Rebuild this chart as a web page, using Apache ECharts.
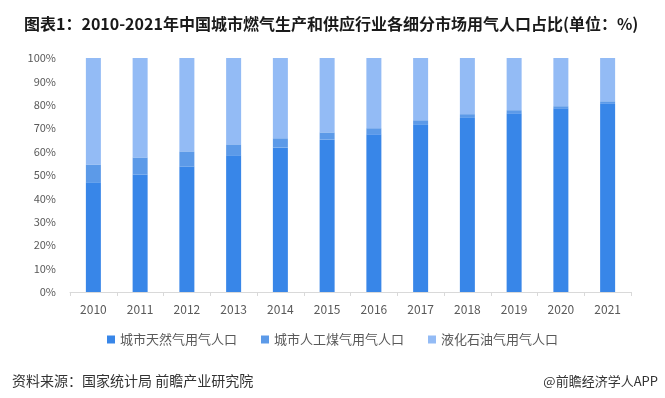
<!DOCTYPE html>
<html>
<head>
<meta charset="utf-8">
<script src="https://cdn.jsdelivr.net/npm/echarts@6/dist/echarts.min.js"></script>
<style>
html,body{margin:0;padding:0;background:#fff;}
#c{width:665px;height:398px;}
</style>
</head>
<body>
<div id="c"></div>
<script>
const years = ['2010','2011','2012','2013','2014','2015','2016','2017','2018','2019','2020','2021'];
const naturalGas = [46.9, 50.2, 53.6, 58.4, 61.8, 65.2, 67.4, 71.7, 74.7, 76.4, 78.5, 80.7];
const artificialGas = [7.6, 7.3, 6.5, 4.7, 3.9, 3.0, 2.6, 1.7, 1.3, 1.3, 0.9, 0.8];
const lpg = [45.5, 42.5, 39.9, 36.9, 34.3, 31.8, 30.0, 26.6, 24.0, 22.3, 20.6, 18.5];
const seriesNames = ['城市天然气用气人口', '城市人工煤气用气人口', '液化石油气用气人口'];
const colors = ['#3886E8', '#5C9AE8', '#93BBF5'];

const font = '"Noto Sans CJK SC", "Noto Sans", sans-serif';
const chart = echarts.init(document.getElementById('c'), null, {renderer: 'canvas'});
const dataSets = [naturalGas, artificialGas, lpg];
chart.setOption({
  animation: false,
  backgroundColor: '#fff',
  color: colors,
  title: [
    {
      text: '图表1：2010-2021年中国城市燃气生产和供应行业各细分市场用气人口占比(单位：%)',
      left: 19, top: 11,
      textStyle: {fontFamily: font, fontSize: 16, fontWeight: 'bold', color: '#1a1a1a'}
    },
    {
      text: '资料来源：国家统计局 前瞻产业研究院',
      left: 7, top: 369,
      textStyle: {fontFamily: font, fontSize: 14, fontWeight: 'normal', color: '#333'}
    },
    {
      text: '@前瞻经济学人APP',
      right: 2, top: 370,
      textStyle: {fontFamily: font, fontSize: 13, fontWeight: 'normal', color: '#333'}
    }
  ],
  legend: {
    data: seriesNames,
    top: 328,
    left: 'center',
    itemWidth: 8, itemHeight: 8, itemGap: 24,
    icon: 'rect',
    textStyle: {fontFamily: font, fontSize: 13, color: '#595959'}
  },
  grid: {left: 70, right: 34, top: 58, bottom: 106},
  xAxis: {
    type: 'category',
    data: years,
    axisLine: {lineStyle: {color: '#d9d9d9', width: 1}},
    axisTick: {show: true, length: 4, lineStyle: {color: '#d9d9d9'}},
    axisLabel: {fontFamily: font, fontSize: 12, color: '#595959', margin: 11}
  },
  yAxis: {
    type: 'value',
    min: 0, max: 100, interval: 10,
    axisLine: {show: false},
    axisTick: {show: false},
    splitLine: {show: false},
    axisLabel: {formatter: '{value}%', fontFamily: font, fontSize: 11, color: '#595959', margin: 14}
  },
  series: seriesNames.map((n, i) => ({
    name: n,
    type: 'bar',
    stack: 'total',
    barWidth: 15,
    data: dataSets[i],
    itemStyle: {color: colors[i]}
  }))
});
</script>
</body>
</html>
